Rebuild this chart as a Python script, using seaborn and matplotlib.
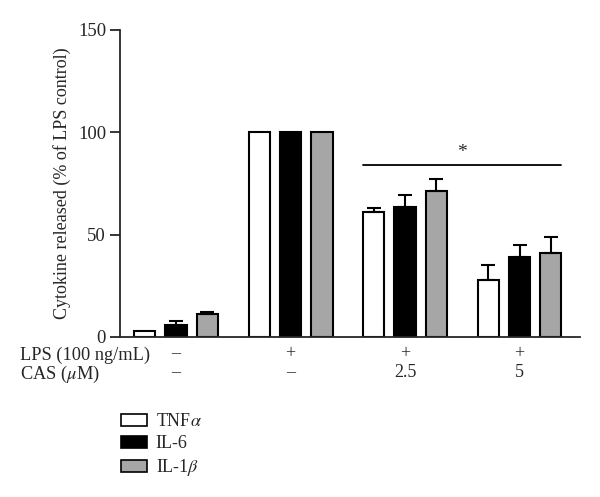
import matplotlib
matplotlib.use("Agg")
import matplotlib.pyplot as plt
from matplotlib.patches import Patch
import pandas as pd
import seaborn as sns

# Data #

groups = ["g1", "g2", "g3", "g4"]
lps_labels = ["–", "+", "+", "+"]
cas_labels = ["–", "–", "2.5", "5"]
cytokines = ["TNF$\\alpha$", "IL-6", "IL-1$\\beta$"]

tnf = [3, 100, 61, 28]
il6 = [6, 100, 63.5, 39]
il1b = [11, 100, 71.5, 41]

tnf_err = [0, 0, 2, 7]
il6_err = [2, 0, 6, 6]
il1b_err = [1, 0, 5.5, 8]

colors = ["white", "black", "#a6a6a6"]

rows = []
for name, vals in zip(cytokines, [tnf, il6, il1b]):
    for g, v in zip(groups, vals):
        rows.append({"group": g, "cytokine": name, "value": v})
df = pd.DataFrame(rows)

sns.set_style("ticks")
plt.rcParams['font.family'] = ['Liberation Serif', 'DejaVu Serif']
plt.rcParams['mathtext.fontset'] = 'stix'

fig = plt.figure(figsize=(6, 4.97), dpi=100)
ax = fig.add_axes([0.2, 0.322, 0.767, 0.618])

sns.barplot(data=df, x="group", y="value", hue="cytokine", order=groups, hue_order=cytokines,
            palette=colors, width=0.82, gap=0.32, edgecolor="black", linewidth=1.5,
            errorbar=None, legend=False, ax=ax)

# error bars (upper only) on top of each bar #
errs = tnf_err + il6_err + il1b_err
bars = [p for p in ax.patches if p.get_height() > 0]
for p, e in zip(bars, errs):
    if e <= 0:
        continue
    xc = p.get_x() + p.get_width() / 2
    ax.errorbar(xc, p.get_height(), yerr=[[0], [e]], fmt="none", ecolor="black",
                elinewidth=1.5, capsize=5, capthick=1.5)

# significance line between CAS groups #
left = bars[2].get_x()
right = bars[11].get_x() + bars[11].get_width()
ax.plot([left, right], [84, 84], color="black", lw=1.3)
ax.text((left + right) / 2, 86, "*", ha="center", va="bottom", fontsize=14)

ax.set_ylim(0, 150)
ax.set_yticks([0, 50, 100, 150])
ax.set_xlim(-0.49, 3.53)
ax.set_xticks(range(4))
ax.set_xticklabels([a + "\n" + b for a, b in zip(lps_labels, cas_labels)], linespacing=1.15)
ax.tick_params(axis="x", length=0, pad=6, labelsize=13)
ax.tick_params(axis="y", length=7, width=1.3, labelsize=13.5, pad=3)
ax.set_xlabel("")
ax.set_ylabel("Cytokine released (% of LPS control)", fontsize=13, labelpad=5)
for s in ["top", "right"]:
    ax.spines[s].set_visible(False)
ax.spines["left"].set_linewidth(1.3)
ax.spines["bottom"].set_linewidth(1.3)

ax.text(-0.217, -0.06, "LPS (100 ng/mL)", transform=ax.transAxes, fontsize=13.2, ha="left", va="center")
ax.text(-0.217, -0.122, "CAS ($\\mu$M)", transform=ax.transAxes, fontsize=13.2, ha="left", va="center")

handles = [Patch(facecolor=c, edgecolor="black", linewidth=1.2) for c in colors]
fig.legend(handles, cytokines, loc="upper left", bbox_to_anchor=(0.19, 0.183), frameon=False,
           fontsize=13, handlelength=1.4, handleheight=0.7, labelspacing=0.28, handletextpad=0.5,
           borderaxespad=0)

plt.savefig("out.png", format="png", dpi=100)
